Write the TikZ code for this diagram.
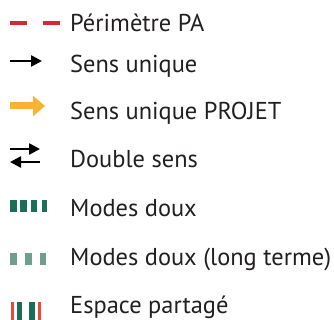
\documentclass[tikz,border=0pt]{standalone}
\usepackage{fontspec}
\setmainfont{PT Sans}
\usetikzlibrary{arrows.meta}
\definecolor{txt}{HTML}{231F20}
\definecolor{perim}{HTML}{D7282F}
\definecolor{proj}{HTML}{F9B234}
\definecolor{dgreen}{HTML}{1B6E57}
\definecolor{lgreen}{HTML}{6F9E8C}
\definecolor{sred}{HTML}{E84A3E}
\tikzset{
  lbl/.style={anchor=base west, inner sep=0pt, text=txt, font=\fontsize{24.4}{26}\selectfont},
  blk/.style={line width=2.5pt, -{Triangle[length=11pt,width=11pt]}},
}
\begin{document}
\begin{tikzpicture}[x=1pt,y=-1pt]
\useasboundingbox (0,0) rectangle (334,320);
% labels
\node[lbl] (t1) at (70,32) {Périmètre PA};
\node[lbl] (t2) at (70,73) {Sens unique};
\node[lbl] (t3) at (70,120) {Sens unique PROJET};
\node[lbl] (t4) at (70,168) {Double sens};
\node[lbl] (t5) at (70,216) {Modes doux};
\node[lbl] (t6) at (70,265) {Modes doux (long terme)};
\node[lbl] (t7) at (70,313) {Espace partagé};
% perimeter
\draw[perim, line width=4pt] (10,23) -- (27,23) (43,23) -- (60,23);
% sens unique
\coordinate (a1) at (10,61); \coordinate (b1) at (42,61);
\draw[blk] (a1) -- (b1);
% projet
\coordinate (a2) at (10,106); \coordinate (b2) at (45,106);
\draw[proj, line width=7pt, -{Triangle[length=12pt,width=20pt]}] (a2) -- (b2);
% double sens
\coordinate (a3) at (10,149); \coordinate (b3) at (40,149);
\coordinate (a4) at (40,162); \coordinate (b4) at (10,162);
\draw[blk] (a3) -- (b3);
\draw[blk] (a4) -- (b4);
% modes doux
\foreach \x/\w in {10/6.5, 20/6.5, 31/6, 41.5/5}
  \fill[dgreen] (\x,200) rectangle ++(\w,12);
% long terme
\foreach \x/\w in {10/6.5, 25/6.5, 40/5.5}
  \fill[lgreen] (\x,253) rectangle ++(\w,12);
% espace partage
\fill[sred] (11,302) rectangle (14,320);
\fill[dgreen] (16.5,302) rectangle (22,320);
\fill[dgreen] (29,302) rectangle (35,320);
\fill[sred] (37.5,302) rectangle (40.5,320);
\end{tikzpicture}
\end{document}
